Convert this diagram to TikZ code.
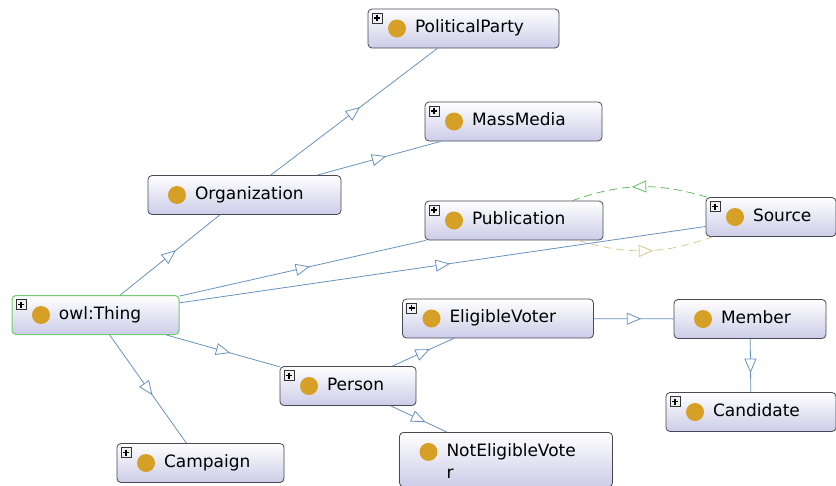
\documentclass[tikz,border=0pt]{standalone}
\usepackage{fontspec}
\setmainfont{DejaVu Sans}
\usepackage{tikz}
\usetikzlibrary{decorations.markings}

\definecolor{edgec}{RGB}{104,146,190}
\definecolor{boxc}{RGB}{72,72,84}
\definecolor{boxfill}{RGB}{204,204,232}
\definecolor{dotc}{RGB}{214,160,38}
\definecolor{rootc}{RGB}{110,205,110}
\definecolor{eqgreen}{RGB}{95,190,95}
\definecolor{eqyellow}{RGB}{206,204,140}

\newcommand{\classdot}{\fill[dotc] ([shift={(29pt,-19.5pt)}]path picture bounding box.north west) circle (9pt);}
\newcommand{\plusbox}{%
  \draw[sharp corners, black!80, line width=0.6pt, fill=black!6] ([shift={(4pt,-4pt)}]path picture bounding box.north west) rectangle ++(10pt,-10pt);
  \draw[sharp corners, black, line width=1.3pt] ([shift={(6pt,-9pt)}]path picture bounding box.north west) -- ++(6pt,0pt);
  \draw[sharp corners, black, line width=1.3pt] ([shift={(9pt,-6pt)}]path picture bounding box.north west) -- ++(0pt,-6pt);}

\begin{document}
\begin{tikzpicture}[x=1pt, y=-1pt,
    cls/.style={draw=boxc, line width=0.8pt, rounded corners=4pt,
      top color=white, bottom color=boxfill, minimum height=39pt,
      inner xsep=4pt, inner ysep=8.5pt, align=left, text width=#1-8pt,
      font=\fontsize{17}{22}\selectfont,
      execute at begin node={\leftskip=43pt\relax\strut},
      path picture={\classdot}},
    plus/.style={path picture={\classdot\plusbox}},
    root/.style={draw=rootc, line width=1pt},
    isa/.style={draw=#1, line width=0.8pt, postaction=decorate,
      decoration={markings, mark=at position 0.5 with
        {\draw[draw=#1, fill=white, solid, line width=0.8pt] (6.5pt,0pt) -- (-6.5pt,5.5pt) -- (-6.5pt,-5.5pt) -- cycle;}}},
    isa/.default=edgec,
    eq/.style={isa=#1, dash pattern=on 8pt off 5pt}]
    \useasboundingbox (0,0) rectangle (836,485);

    \node[cls=191pt, plus] (party) at (463.5,28.5) {PoliticalParty};
    \node[cls=177pt, plus] (media) at (513.5,121.5) {MassMedia};
    \node[cls=193pt] (org) at (244.5,195) {Organization};
    \node[cls=178pt, plus] (pub) at (514,220.5) {Publication};
    \node[cls=130pt, plus] (source) at (771,217) {Source};
    \node[cls=167pt, plus, root] (thing) at (95.5,315) {owl:Thing};
    \node[cls=191pt, plus] (elig) at (498,318.5) {EligibleVoter};
    \node[cls=152pt] (member) at (750,319) {Member};
    \node[cls=136pt, plus] (person) at (348,386) {Person};
    \node[cls=170pt, plus] (cand) at (751,412) {Candidate};
    \node[cls=167pt, plus] (campaign) at (200.5,463) {Campaign};
    \node[cls=213pt, anchor=north] (noteli) at (506,432) {NotEligibleVote\\r};

    % subclass edges, triangle in the middle
    \draw[isa] (thing) -- (org);
    \draw[isa] (org) -- (party);
    \draw[isa] (org) -- (media);
    \draw[isa] (thing) -- (pub);
    \draw[isa] (thing) -- (source);
    \draw[isa] (thing) -- (person);
    \draw[isa] (thing) -- (campaign);
    \draw[isa] (person) -- (elig);
    \draw[isa] (person) -- (noteli);
    \draw[isa] (elig) -- (member);
    \draw[isa] (member) -- (cand);
    \draw[eq=eqgreen] (source) to[bend right=18] (pub);
    \draw[eq=eqyellow] (pub) to[bend right=18] (source);
\end{tikzpicture}
\end{document}
